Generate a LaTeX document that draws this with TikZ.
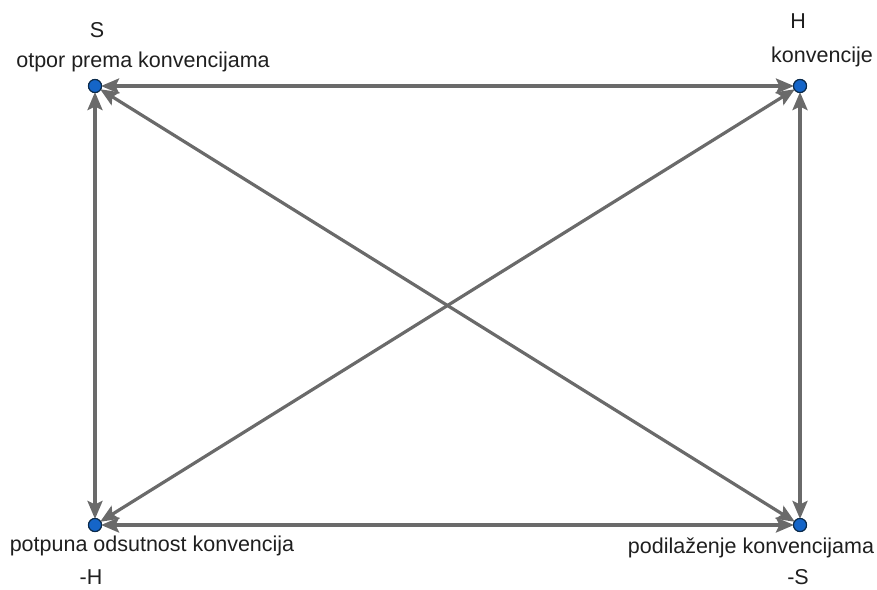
\documentclass[tikz,border=0pt]{standalone}
\usepackage{fontspec}
\setmainfont{Liberation Sans}
\usetikzlibrary{arrows.meta}
\definecolor{edgegray}{HTML}{6A6A6A}
\definecolor{dotblue}{HTML}{1565C8}
\definecolor{dotedge}{HTML}{0B2A4A}
\begin{document}
\begin{tikzpicture}[x=1pt,y=-1pt,
  pt/.style={circle,fill=dotblue,draw=dotedge,line width=1.1pt,minimum size=13pt,inner sep=0pt},
  lbl/.style={inner sep=0pt,font=\fontsize{21.5}{24}\selectfont,text=black!88},
  conn/.style={draw=edgegray,line width=3.2pt,{Stealth[length=18pt,width=15pt,inset=3.5pt]}-{Stealth[length=18pt,width=15pt,inset=3.5pt]},shorten <=-1pt,shorten >=-1pt}]
\useasboundingbox (0,0) rectangle (877,589);
\node[pt] (S) at (95,86) {};
\node[pt] (H) at (800,86) {};
\node[pt] (nH) at (95,525) {};
\node[pt] (nS) at (800,525) {};
\node[lbl] (tS) at (97,30) {S};
\node[lbl] (lS) at (143,62) {otpor prema konvencijama};
\node[lbl] (tH) at (798,21) {H};
\node[lbl] (lH) at (822,57) {konvencije};
\node[lbl] (lnH) at (152,546) {potpuna odsutnost konvencija};
\node[lbl] (tnH) at (91,577) {-H};
\node[lbl] (lnS) at (751,548) {podilaženje konvencijama};
\node[lbl] (tnS) at (798,577) {-S};
\draw[conn] (S) -- (H);
\draw[conn] (S) -- (nH);
\draw[conn] (H) -- (nS);
\draw[conn] (nH) -- (nS);
\draw[conn] (S) -- (nS);
\draw[conn] (H) -- (nH);
\node[pt] at (S) {};
\node[pt] at (H) {};
\node[pt] at (nH) {};
\node[pt] at (nS) {};
\end{tikzpicture}
\end{document}
